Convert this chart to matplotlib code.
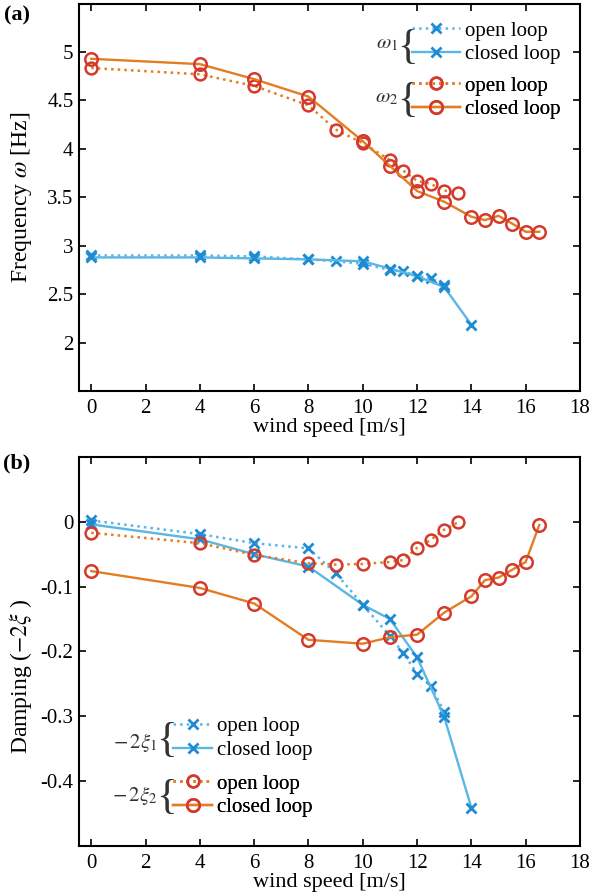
import matplotlib
matplotlib.use("Agg")
import matplotlib.pyplot as plt
import numpy as np

plt.rcParams['font.family'] = ['Liberation Serif', 'DejaVu Serif']
plt.rcParams['mathtext.fontset'] = 'stix'
plt.rcParams['axes.unicode_minus'] = False

# wind speeds [m/s]
ws_open1 = [0, 4, 6, 8, 9, 10, 11, 11.5, 12, 12.5, 13]
ws_closed1 = [0, 4, 6, 8, 10, 11, 12, 13, 14]
ws_open2 = [0, 4, 6, 8, 9, 10, 11, 11.5, 12, 12.5, 13, 13.5]
ws_closed2 = [0, 4, 6, 8, 10, 11, 12, 13, 14, 14.5, 15, 15.5, 16, 16.5]

# frequencies [Hz]
freq1_open = [2.90, 2.90, 2.89, 2.86, 2.84, 2.815, 2.75, 2.735, 2.69, 2.665, 2.60]
freq1_closed = [2.88, 2.88, 2.87, 2.86, 2.84, 2.765, 2.685, 2.575, 2.185]
freq2_open = [4.835, 4.77, 4.65, 4.45, 4.20, 4.06, 3.885, 3.775, 3.67, 3.64, 3.57, 3.55]
freq2_closed = [4.93, 4.875, 4.72, 4.54, 4.08, 3.825, 3.565, 3.455, 3.30, 3.265, 3.31, 3.23, 3.145, 3.145]

# damping (-2 xi)
damp1_open = [0.002, -0.019, -0.033, -0.041, -0.079, -0.128, -0.176, -0.203, -0.234, -0.253, -0.293]
damp1_closed = [-0.004, -0.027, -0.050, -0.069, -0.128, -0.150, -0.209, -0.301, -0.441]
damp2_open = [-0.017, -0.033, -0.051, -0.064, -0.066, -0.065, -0.062, -0.059, -0.040, -0.028, -0.012, -0.001]
damp2_closed = [-0.076, -0.102, -0.126, -0.182, -0.188, -0.178, -0.174, -0.140, -0.115, -0.090, -0.086, -0.074, -0.062, -0.005]

blue_line = '#5ab6e4'
blue_mark = '#1f8bd2'
orange_line = '#e27d22'
red_mark = '#d43a2c'

fs = 15

fig = plt.figure(figsize=(5.9, 8.93), dpi=100)
ax1 = fig.add_axes([0.134, 0.562, 0.849, 0.434])
ax2 = fig.add_axes([0.134, 0.0526, 0.849, 0.4357])


def draw(ax, y1o, y1c, y2o, y2c):
    h1o, = ax.plot(ws_open1, y1o, ':', color=blue_line, lw=1.8, marker='x', ms=7,
                   mew=2, mec=blue_mark, label='open loop')
    h1c, = ax.plot(ws_closed1, y1c, '-', color=blue_line, lw=1.7, marker='x', ms=7,
                   mew=2, mec=blue_mark, label='closed loop')
    h2o, = ax.plot(ws_open2, y2o, ':', color=orange_line, lw=1.8, marker='o', ms=8.5,
                   mew=1.8, mec=red_mark, mfc='none', label='open loop')
    h2c, = ax.plot(ws_closed2, y2c, '-', color=orange_line, lw=1.7, marker='o', ms=9,
                   mew=1.8, mec=red_mark, mfc='none', label='closed loop')
    ax.set_xlim(-0.45, 18)
    ax.set_xticks(np.arange(0, 19, 2))
    ax.tick_params(direction='in', top=True, right=True, length=5, width=1.2,
                   labelsize=fs)
    ax.tick_params(axis='x', pad=6)
    ax.tick_params(axis='y', pad=4)
    for s in ax.spines.values():
        s.set_linewidth(1.5)
    ax.set_xlabel('wind speed [m/s]', fontsize=fs + 1, labelpad=0)
    return (h1o, h1c), (h2o, h2c)


def group_legend(ax, handles, x, y, hl):
    leg = ax.legend(handles=list(handles), loc='upper left', bbox_to_anchor=(x, y),
                    frameon=False, fontsize=fs, borderpad=0, borderaxespad=0,
                    handlelength=hl, handletextpad=0.25, labelspacing=0.2)
    ax.add_artist(leg)


def brace(ax, x, y, label, lx, ly):
    ax.text(lx, ly, label, transform=ax.transAxes, fontsize=fs,
            ha='center', va='center', color='#333333')
    ax.text(x, y, '{', transform=ax.transAxes, fontsize=31,
            ha='center', va='center', color='#333333')


g1, g2 = draw(ax1, freq1_open, freq1_closed, freq2_open, freq2_closed)
ax1.set_ylim(1.5, 5.5)
ax1.set_yticks([2, 2.5, 3, 3.5, 4, 4.5, 5])
ax1.set_yticklabels(['2', '2.5', '3', '3.5', '4', '4.5', '5'])
ax1.set_ylabel(r'Frequency $\omega$ [Hz]', fontsize=fs + 2)
ax1.yaxis.set_label_coords(-0.09, 0.5)
group_legend(ax1, g1, 0.665, 0.955, 2.3)
group_legend(ax1, g2, 0.665, 0.813, 2.3)
brace(ax1, 0.655, 0.887, r'$\omega_1$', 0.615, 0.896)
brace(ax1, 0.655, 0.748, r'$\omega_2$', 0.615, 0.756)

g1, g2 = draw(ax2, damp1_open, damp1_closed, damp2_open, damp2_closed)
ax2.set_ylim(-0.5, 0.1)
ax2.set_yticks([-0.4, -0.3, -0.2, -0.1, 0])
ax2.set_yticklabels(['-0.4', '-0.3', '-0.2', '-0.1', '0'])
ax2.set_ylabel(r'Damping ($-2\xi$ )', fontsize=fs + 2)
ax2.yaxis.set_label_coords(-0.09, 0.437)
group_legend(ax2, g1, 0.188, 0.332, 1.85)
group_legend(ax2, g2, 0.188, 0.185, 1.85)
brace(ax2, 0.174, 0.270, r'$-\,2\xi_1$', 0.112, 0.267)
brace(ax2, 0.174, 0.125, r'$-\,2\xi_2$', 0.112, 0.131)

fig.text(0.029, 0.983, '(a)', fontsize=fs + 1, fontweight='bold', ha='center', va='center')
fig.text(0.029, 0.4815, '(b)', fontsize=fs + 1, fontweight='bold', ha='center', va='center')

fig.savefig('out.png', dpi=100)
